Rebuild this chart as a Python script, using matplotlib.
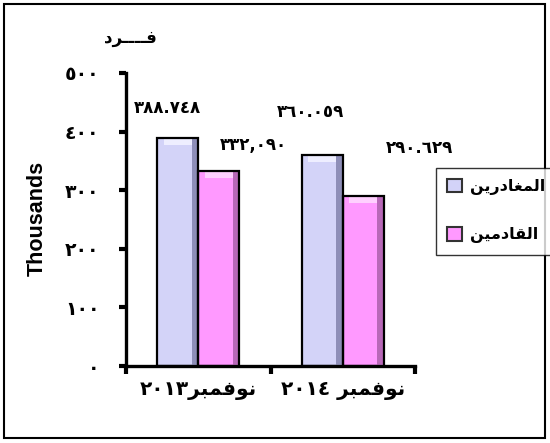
import matplotlib
matplotlib.use("Agg")
import matplotlib.pyplot as plt
from matplotlib.patches import Rectangle
import numpy as np

# ---- data ----
# Arabic words written in presentation forms, visual (left-to-right) order
word_month = "\uFEAE\uFE92\uFEE4\uFED3\uFEEE\uFEE7"          # نوفمبر
categories = ["\u0662\u0660\u0661\u0663" + word_month,          # ٢٠١٣نوفمبر
              "\u0662\u0660\u0661\u0664 " + word_month]         # ٢٠١٤ نوفمبر
series_names = ["\uFEE6\uFEF3\uFEAD\uFEA9\uFE8E\uFED0\uFEE4\uFEDF\uFE8D",  # المغادرين
                "\uFEE6\uFEF4\uFEE3\uFEA9\uFE8E\uFED8\uFEDF\uFE8D"]        # القادمين
departures = [388.748, 360.059]
arrivals = [332.090, 290.629]
value_labels = [["\u0663\u0668\u0668.\u0667\u0664\u0668", "\u0663\u0666\u0660.\u0660\u0665\u0669"],
                ["\u0663\u0663\u0662,\u0660\u0669\u0660", "\u0662\u0669\u0660.\u0666\u0662\u0669"]]
yticks = [0, 100, 200, 300, 400, 500]
ytick_labels = ["\u0660", "\u0661\u0660\u0660", "\u0662\u0660\u0660",
                "\u0663\u0660\u0660", "\u0664\u0660\u0660", "\u0665\u0660\u0660"]
unit_title = "\uFEA9\uFEAE\u0640\u0640\u0640\u0640\uFED3"      # فــــرد
axis_label = "Thousands"

# label offsets (data units) relative to bar centre / top
label_offsets = [[(-0.07, 51), (-0.085, 73)],
                 [(0.24, 45), (0.39, 81)]]

face_cols = ["#D3D3F8", "#FF99FF"]
side_cols = ["#8E8EB8", "#B868B8"]
top_cols = ["#EEEEFF", "#FFD0FF"]

arab = ["DejaVu Sans"]

fig = plt.figure(figsize=(5.5, 4.43), dpi=100)
ax = fig.add_axes([126/550, 1-366/443, (415-126)/550, (366-73)/443])

x = np.arange(len(categories))
w = 0.283
for si, vals in enumerate([departures, arrivals]):
    xc = x + (si - 0.5) * w
    ax.bar(xc, vals, width=w, color=face_cols[si], lw=0, zorder=2)
    # darker right side
    ax.bar(xc + w/2 - 0.045, vals, width=0.045, align="edge",
           color=side_cols[si], lw=0, zorder=3)
    # lighter top bevel
    ax.bar(xc, [12]*len(vals), bottom=np.array(vals) - 12, width=w - 0.09,
           color=top_cols[si], lw=0, zorder=3)
    ax.bar(xc, vals, width=w, fill=False, edgecolor="black", lw=1.6, zorder=4)
    for i, v in enumerate(vals):
        dx, dy = label_offsets[si][i]
        ax.text(xc[i] + dx, v + dy, value_labels[si][i], ha="center", va="center",
                fontsize=12, family=arab, fontweight="bold", clip_on=False)

ax.set_xlim(-0.5, 1.5)
ax.set_ylim(0, 500)
for s in ["top", "right"]:
    ax.spines[s].set_visible(False)
for s in ["left", "bottom"]:
    ax.spines[s].set_linewidth(2.4)
ax.set_yticks(yticks)
ax.set_yticklabels(ytick_labels, family=arab, fontweight="bold", fontsize=13.5)
ax.tick_params(axis="y", length=5, width=3, pad=14)
ax.set_xticks([-0.5, 0.5, 1.5])
ax.set_xticklabels([])
ax.tick_params(axis="x", which="major", length=6, width=3)
ax.set_xticks(x, minor=True)
ax.set_xticklabels(categories, minor=True, family=arab, fontweight="bold", fontsize=14.5)
ax.tick_params(axis="x", which="minor", length=0, pad=11)

ax.set_ylabel(axis_label, family=["Liberation Sans"], fontweight="bold", fontsize=15.5)
ax.yaxis.set_label_coords((48-126)/289, (366-218)/293)

fig.text(130/550, 1-38/443, unit_title, family=arab, fontweight="bold", fontsize=12,
         ha="center", va="center")

handles = [Rectangle((0, 0), 1, 1, facecolor=face_cols[i], edgecolor="#333333", lw=1.5)
           for i in range(2)]
leg = fig.legend(handles, series_names, loc="upper left",
                 bbox_to_anchor=(436/550, 1-168/443), bbox_transform=fig.transFigure,
                 borderaxespad=0,
                 prop={"family": arab, "weight": "bold", "size": 11.5},
                 frameon=True, fancybox=False, edgecolor="black",
                 handlelength=0.9, handleheight=0.9, handletextpad=0.5,
                 labelspacing=2.0, borderpad=0.7)
leg.get_frame().set_linewidth(1.0)

fig.patches.append(Rectangle((4/550, 5/443), 541/550, 434/443, transform=fig.transFigure,
                             fill=False, edgecolor="black", lw=1.5))

fig.savefig("out.png", dpi=100)
